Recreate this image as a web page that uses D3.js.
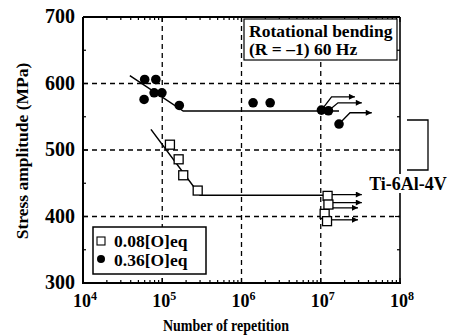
<!DOCTYPE html>
<html><head><meta charset="utf-8">
<script src="https://cdn.jsdelivr.net/npm/d3@7"></script>
<style>body{margin:0;background:#fff}svg{display:block}</style>
</head><body>
<svg id="c" width="450" height="336"></svg>
<script>
// ---- data ----
const xTicks = [1e4, 1e5, 1e6, 1e7, 1e8];
const xTickExp = ["4", "5", "6", "7", "8"];
const yTicks = [300, 400, 500, 600, 700];
const gridX = [1e5, 1e6, 1e7];
const gridY = [400, 500, 600];
// 0.36[O]eq (filled circles): [cycles, stress]
const circleN = [6.0e4, 8.3e4, 5.9e4, 7.9e4, 9.9e4, 1.64e5, 1.4e6, 2.3e6, 1.02e7, 1.25e7, 1.7e7];
const circleS = [606, 606, 576, 586, 586, 567, 571, 571, 560, 559, 539];
// 0.08[O]eq (open squares)
const squareN = [1.25e5, 1.61e5, 1.84e5, 2.8e5, 1.12e7, 1.22e7, 1.25e7, 1.2e7];
const squareS = [508, 486, 462, 439, 404, 431, 418, 393];
// fitted S-N lines
const circleFitN = [3.9e4, 1.84e5, 1.7e7];
const circleFitS = [612, 558.5, 558.5];
const squareFitN = [7.2e4, 3.0e5, 1.2e7];
const squareFitS = [531, 432, 432];
// run-out arrows (polylines in data units)
const runoutN = [[1.02e7, 1.37e7, 2.7e7], [1.25e7, 1.65e7, 3.3e7], [1.7e7, 2.34e7, 4.4e7],
                 [1.22e7, 3.3e7], [1.25e7, 3.3e7], [1.12e7, 1.3e7, 2.95e7], [1.2e7, 2.95e7]];
const runoutS = [[560, 580, 580], [559, 571, 571], [539, 556, 556],
                 [433, 433], [421, 421], [404, 413, 413], [395, 395]];
const legendLabels = ["0.08[O]eq", "0.36[O]eq"];
const boxLines = ["Rotational bending", "(R = \u20131) 60 Hz"];
const materialLabel = "Ti-6Al-4V";
const xTitle = "Number of repetition";
const yTitle = "Stress amplitude (MPa)";

// ---- chart ----
const FONT = "'Liberation Serif', 'Times New Roman', serif";
const txt = (sel, size) => sel.style("font-family", FONT).style("font-weight", "bold").style("font-size", size + "px").attr("fill", "#000");
const svg = d3.select("#c");
const L = 83, R = 400, T = 17, B = 283;
const x = d3.scaleLog().domain([1e4, 1e8]).range([L, R]);
const y = d3.scaleLinear().domain([300, 700]).range([B, T]);

svg.append("defs").append("marker").attr("id", "ah").attr("viewBox", "0 0 10 10")
  .attr("refX", 10).attr("refY", 5).attr("markerWidth", 9).attr("markerHeight", 6)
  .attr("markerUnits", "userSpaceOnUse").attr("orient", "auto")
  .append("path").attr("d", "M0,0L10,5L0,10Z").attr("fill", "#000");

// grid
const g = svg.append("g");
g.selectAll(".gx").data(gridX).join("line").attr("x1", d => x(d)).attr("x2", d => x(d))
  .attr("y1", T).attr("y2", B).attr("stroke", "#000").attr("stroke-width", 1.3).attr("stroke-dasharray", "5,4");
g.selectAll(".gy").data(gridY).join("line").attr("y1", d => y(d)).attr("y2", d => y(d))
  .attr("x1", L).attr("x2", R).attr("stroke", "#000").attr("stroke-width", 1.3).attr("stroke-dasharray", "5,4");

// minor ticks
const minorX = [];
for (let e = 4; e < 8; e++) for (let k = 2; k <= 9; k++) minorX.push(k * Math.pow(10, e));
const minorY = d3.range(350, 700, 100);
const ax = svg.append("g").attr("stroke", "#000").attr("stroke-width", 1.2);
minorX.forEach(v => {
  ax.append("line").attr("x1", x(v)).attr("x2", x(v)).attr("y1", B).attr("y2", B - 3);
  ax.append("line").attr("x1", x(v)).attr("x2", x(v)).attr("y1", T).attr("y2", T + 3);
});
xTicks.forEach(v => {
  ax.append("line").attr("x1", x(v)).attr("x2", x(v)).attr("y1", B).attr("y2", B - 5);
  ax.append("line").attr("x1", x(v)).attr("x2", x(v)).attr("y1", T).attr("y2", T + 5);
});
minorY.forEach(v => {
  ax.append("line").attr("y1", y(v)).attr("y2", y(v)).attr("x1", L).attr("x2", L + 3);
  ax.append("line").attr("y1", y(v)).attr("y2", y(v)).attr("x1", R).attr("x2", R - 3);
});
yTicks.forEach(v => {
  ax.append("line").attr("y1", y(v)).attr("y2", y(v)).attr("x1", L).attr("x2", L + 5);
  ax.append("line").attr("y1", y(v)).attr("y2", y(v)).attr("x1", R).attr("x2", R - 5);
});

// frame
svg.append("line").attr("x1", L).attr("x2", R).attr("y1", T).attr("y2", T).attr("stroke", "#000").attr("stroke-width", 1.8);
svg.append("line").attr("x1", R).attr("x2", R).attr("y1", T).attr("y2", B).attr("stroke", "#000").attr("stroke-width", 1.6);
svg.append("line").attr("x1", L).attr("x2", L).attr("y1", T).attr("y2", B + 1).attr("stroke", "#000").attr("stroke-width", 2);
svg.append("line").attr("x1", L - 1).attr("x2", R + 1).attr("y1", B).attr("y2", B).attr("stroke", "#000").attr("stroke-width", 2);

// fit lines
const line = d3.line().x(d => x(d[0])).y(d => y(d[1]));
svg.append("path").attr("d", line(d3.zip(circleFitN, circleFitS))).attr("fill", "none").attr("stroke", "#000").attr("stroke-width", 1.5);
svg.append("path").attr("d", line(d3.zip(squareFitN, squareFitS))).attr("fill", "none").attr("stroke", "#000").attr("stroke-width", 1.5);

// run-out arrows
runoutN.forEach((ns, i) => {
  svg.append("path").attr("d", line(d3.zip(ns, runoutS[i]))).attr("fill", "none")
    .attr("stroke", "#000").attr("stroke-width", 1.3).attr("marker-end", "url(#ah)");
});

// points
svg.selectAll(".sq").data(d3.zip(squareN, squareS)).join("rect")
  .attr("x", d => x(d[0]) - 4.5).attr("y", d => y(d[1]) - 4.5).attr("width", 9).attr("height", 9)
  .attr("fill", "#fff").attr("stroke", "#000").attr("stroke-width", 1.3);
svg.selectAll(".ci").data(d3.zip(circleN, circleS)).join("circle")
  .attr("cx", d => x(d[0])).attr("cy", d => y(d[1])).attr("r", 4.8).attr("fill", "#000");

// tick labels
txt(svg.selectAll(".yl").data(yTicks).join("text").attr("x", L - 8).attr("y", d => y(d) + 6)
  .attr("text-anchor", "end"), 20).text(d => d);
const xl = txt(svg.selectAll(".xl").data(xTicks).join("text").attr("x", d => x(d) + 2).attr("y", 307)
  .attr("text-anchor", "middle"), 18);
xl.append("tspan").text("10");
xl.append("tspan").attr("dy", -7).style("font-size", "12px").text((d, i) => xTickExp[i]);

// axis titles
txt(svg.append("text").attr("x", 163).attr("y", 331)
  .attr("textLength", 126).attr("lengthAdjust", "spacingAndGlyphs"), 16).text(xTitle);
txt(svg.append("text").attr("transform", "translate(28,151) rotate(-90)").attr("text-anchor", "middle"), 17.5).text(yTitle);

// condition box
svg.append("rect").attr("x", 244).attr("y", 19).attr("width", 153).attr("height", 41)
  .attr("fill", "#fff").attr("stroke", "#000").attr("stroke-width", 1.2);
txt(svg.selectAll(".bl").data(boxLines).join("text").attr("x", 249).attr("y", (d, i) => 37 + i * 18), 17.5).text(d => d);

// material label with bracket
svg.append("path").attr("d", "M407,120H428V170H407").attr("fill", "none").attr("stroke", "#000").attr("stroke-width", 1.3);
svg.append("rect").attr("x", 368).attr("y", 174).attr("width", 81).attr("height", 19).attr("fill", "#fff");
txt(svg.append("text").attr("x", 408).attr("y", 190).attr("text-anchor", "middle"), 18).text(materialLabel);

// legend
svg.append("rect").attr("x", 93).attr("y", 227).attr("width", 113).attr("height", 47)
  .attr("fill", "#fff").attr("stroke", "#000").attr("stroke-width", 1.5);
svg.append("rect").attr("x", 97).attr("y", 237).attr("width", 8).attr("height", 8)
  .attr("fill", "#fff").attr("stroke", "#000").attr("stroke-width", 1.1);
svg.append("circle").attr("cx", 101).attr("cy", 259).attr("r", 4).attr("fill", "#000");
txt(svg.selectAll(".lg").data(legendLabels).join("text").attr("x", 114).attr("y", (d, i) => 247 + i * 19), 17.5).text(d => d);
</script>
</body></html>
